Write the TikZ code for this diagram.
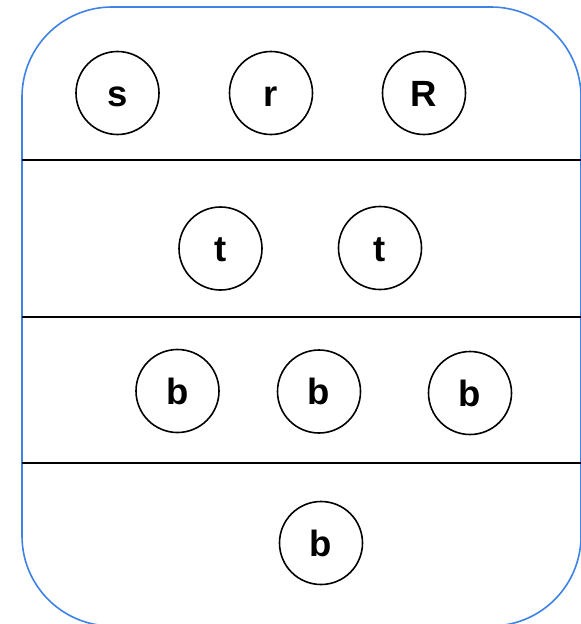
\documentclass[tikz,border=0pt]{standalone}
\usepackage{fontspec}
\setmainfont{Liberation Sans}
\definecolor{frameblue}{HTML}{3F82E6}
\begin{document}
\begin{tikzpicture}[x=1pt,y=1pt,
  letter/.style={circle,draw=black,line width=1.6pt,minimum size=83pt,inner sep=0pt,
    font=\fontsize{36.5}{36.5}\selectfont\bfseries,text height=26.5pt,text depth=0pt},
  band/.style={draw=black,line width=1.5pt}]
\useasboundingbox (0,0) rectangle (581,-624);
\draw[frameblue,line width=1.6pt,rounded corners=90pt] (22,-7) rectangle (581,-626);
\coordinate (l1a) at (22,-160); \coordinate (l1b) at (581,-160);
\coordinate (l2a) at (22,-317); \coordinate (l2b) at (581,-317);
\coordinate (l3a) at (22,-463); \coordinate (l3b) at (581,-463);
\draw[band] (l1a) -- (l1b);
\draw[band] (l2a) -- (l2b);
\draw[band] (l3a) -- (l3b);
\node[letter] (s) at (117.5,-93) {s};
\node[letter] (r) at (271,-93) {r};
\node[letter] (R) at (424,-93) {R};
\node[letter] (t1) at (220.5,-248.5) {t};
\node[letter] (t2) at (380,-248) {t};
\node[letter] (b1) at (177.5,-391) {b};
\node[letter] (b2) at (319,-391.5) {b};
\node[letter] (b3) at (470,-393) {b};
\node[letter] (b4) at (321,-543) {b};
\end{tikzpicture}
\end{document}
